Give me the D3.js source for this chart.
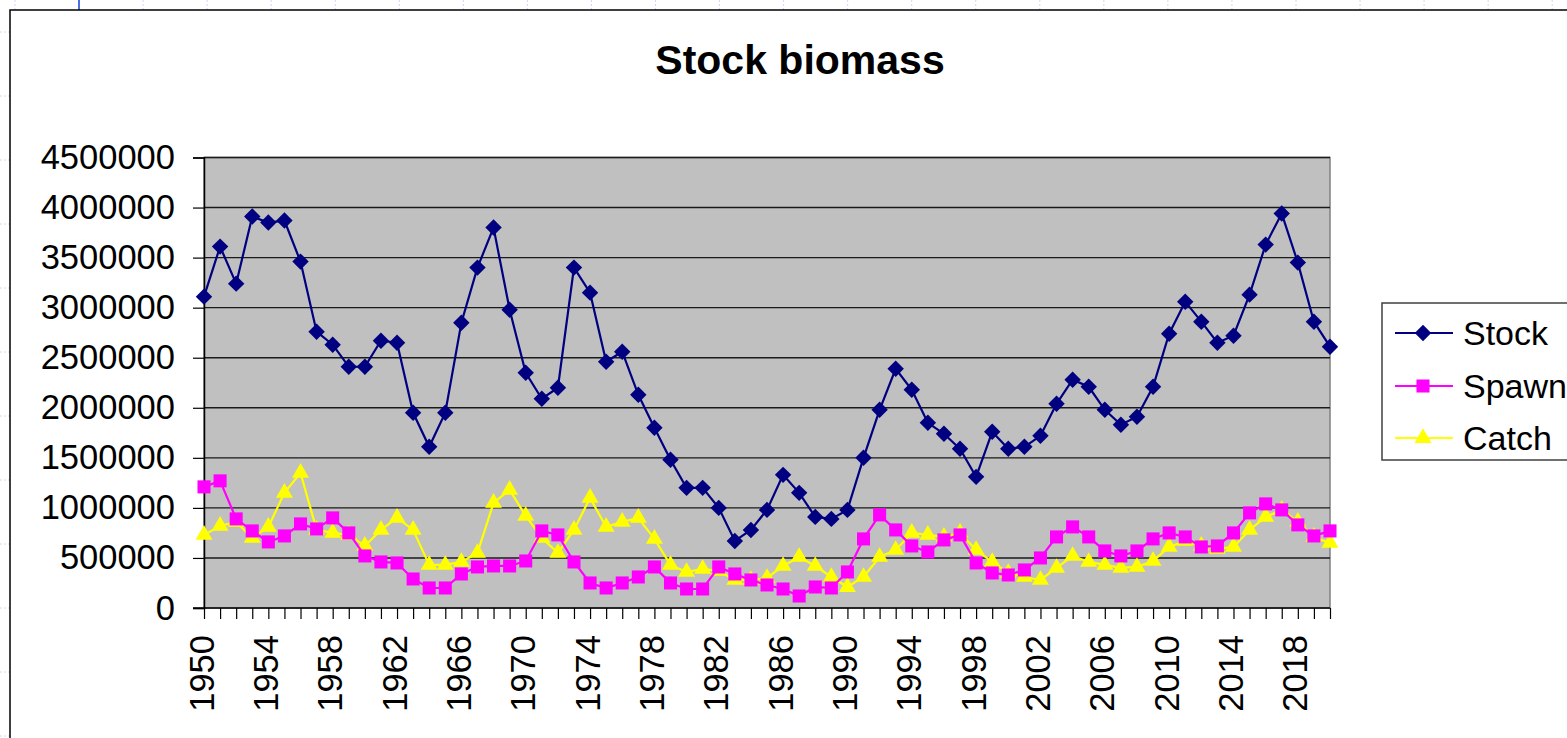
<!DOCTYPE html>
<html>
<head>
<meta charset="utf-8">
<script src="https://cdn.jsdelivr.net/npm/d3@7"></script>
<style>
  body { margin: 0; background: #fff; }
  text { font-family: "Liberation Sans", Arial, sans-serif; }
</style>
</head>
<body>
<svg id="chart"></svg>
<script>
var width = 1567;
var height = 738;

// categories
var years = d3.range(1950, 2021);

// series values
var stock = [3110000, 3610000, 3240000, 3910000, 3850000, 3870000, 3460000, 2760000, 2630000, 2410000,
             2410000, 2670000, 2650000, 1950000, 1610000, 1950000, 2850000, 3400000, 3800000, 2980000,
             2350000, 2090000, 2200000, 3400000, 3150000, 2460000, 2560000, 2130000, 1800000, 1480000,
             1200000, 1200000, 1000000, 670000, 780000, 980000, 1330000, 1150000, 910000, 890000,
             980000, 1500000, 1980000, 2390000, 2180000, 1850000, 1740000, 1590000, 1310000, 1760000,
             1590000, 1610000, 1720000, 2040000, 2280000, 2210000, 1980000, 1830000, 1910000, 2210000,
             2740000, 3060000, 2860000, 2650000, 2720000, 3130000, 3630000, 3940000, 3450000, 2860000,
             2610000];
var spawn = [1210000, 1270000, 890000, 770000, 660000, 720000, 840000, 790000, 900000, 750000,
             520000, 460000, 450000, 290000, 200000, 200000, 340000, 410000, 420000, 420000,
             470000, 770000, 730000, 460000, 250000, 200000, 250000, 310000, 410000, 250000,
             190000, 190000, 410000, 340000, 280000, 230000, 190000, 120000, 210000, 200000,
             360000, 690000, 930000, 780000, 620000, 560000, 680000, 730000, 450000, 350000,
             330000, 380000, 500000, 710000, 810000, 710000, 570000, 520000, 570000, 690000,
             750000, 710000, 610000, 620000, 750000, 950000, 1040000, 980000, 830000, 720000,
             770000];
var catchData = [730000, 820000, 860000, 700000, 810000, 1150000, 1350000, 780000, 750000, 730000,
             620000, 780000, 900000, 780000, 430000, 430000, 460000, 550000, 1050000, 1180000,
             920000, 700000, 550000, 780000, 1100000, 810000, 860000, 900000, 690000, 430000,
             360000, 390000, 370000, 280000, 280000, 300000, 420000, 510000, 420000, 310000,
             210000, 310000, 510000, 580000, 750000, 730000, 710000, 750000, 580000, 460000,
             350000, 310000, 280000, 400000, 520000, 460000, 430000, 400000, 410000, 470000,
             610000, 670000, 620000, 590000, 610000, 780000, 910000, 980000, 860000, 710000,
             650000];

var yTicks = d3.range(0, 4500001, 500000);
var seriesNames = ["Stock", "Spawn", "Catch"];
var seriesColors = ["#000080", "#FF00FF", "#FFFF00"];

var svg = d3.select('#chart')
    .attr('width', width)
    .attr('height', height);

// spreadsheet cells peeking out around the chart
var deco = svg.append('g');
d3.range(15, width, 64.05).forEach(function(px){
    deco.append('line').attr('x1', px).attr('x2', px).attr('y1', 0).attr('y2', 10)
        .attr('stroke', '#cdd8f2').attr('stroke-dasharray', '2,2');
});
d3.range(32, height, 64).forEach(function(py){
    deco.append('line').attr('x1', 0).attr('x2', 10).attr('y1', py).attr('y2', py)
        .attr('stroke', '#cdd8f2').attr('stroke-dasharray', '2,2');
});
deco.append('line').attr('x1', 79).attr('x2', 79).attr('y1', 0).attr('y2', 10)
    .attr('stroke', '#4a6fe0').attr('stroke-width', 2);

// chart frame (runs off the window)
svg.append('rect')
    .attr('x', 10).attr('y', 10)
    .attr('width', width + 20).attr('height', height + 20)
    .attr('fill', '#fff')
    .attr('stroke', '#000').attr('stroke-width', 1.5);

var plotLeft = 204, plotRight = 1330, plotTop = 157.5, plotBottom = 608;

var x = d3.scalePoint()
    .domain(years)
    .range([plotLeft, plotRight]);

var y = d3.scaleLinear()
    .domain([0, 4500000])
    .range([plotBottom, plotTop]);

// plot area
svg.append('rect')
    .attr('x', plotLeft).attr('y', plotTop)
    .attr('width', plotRight - plotLeft).attr('height', plotBottom - plotTop)
    .attr('fill', '#C0C0C0')
    .attr('stroke', '#808080').attr('stroke-width', 1.5);

// gridlines
svg.append('g')
    .selectAll('line')
    .data(yTicks.slice(1))
    .enter().append('line')
    .attr('x1', plotLeft).attr('x2', plotRight)
    .attr('y1', function(d){ return y(d); })
    .attr('y2', function(d){ return y(d); })
    .attr('stroke', '#1a1a1a').attr('stroke-width', 1.4);

// y axis
var yAxis = svg.append('g')
    .attr('transform', 'translate(' + plotLeft + ',0)')
    .call(d3.axisLeft(y).tickValues(yTicks).tickSize(11).tickPadding(18)
        .tickFormat(function(d){ return String(d); }));
yAxis.select('.domain').attr('stroke', '#000').attr('stroke-width', 1.5);
yAxis.selectAll('.tick line').attr('stroke', '#000').attr('stroke-width', 1.2);
yAxis.selectAll('text')
    .style('font-size', '34.5px')
    .attr('fill', '#000');

// x axis
var xAxis = svg.append('g')
    .attr('transform', 'translate(0,' + plotBottom + ')')
    .call(d3.axisBottom(x).tickSize(11)
        .tickFormat(function(d){ return d % 4 === 2 ? d : ''; }));
xAxis.select('.domain').attr('stroke', '#000').attr('stroke-width', 1.5)
    .attr('d', 'M' + (plotLeft - 11) + ',0H' + plotRight);
xAxis.selectAll('.tick line').attr('stroke', '#000').attr('stroke-width', 1.2);
xAxis.selectAll('text')
    .style('font-size', '34.5px')
    .style('text-anchor', 'end')
    .attr('fill', '#000')
    .attr('x', -27)
    .attr('y', -3)
    .attr('dy', '0.35em')
    .attr('transform', 'rotate(-90)');

// lines and markers
var lineGen = d3.line()
    .x(function(d, i){ return x(years[i]); })
    .y(function(d){ return y(d); });

var symbols = [
    d3.symbol().type(d3.symbolSquare).size(135),
    d3.symbol().type(d3.symbolSquare).size(170),
    d3.symbol().type(d3.symbolTriangle).size(125)
];
var rotations = [45, 0, 0];

function drawSeries(values, k){
    var g = svg.append('g');
    g.append('path')
        .attr('d', lineGen(values))
        .attr('fill', 'none')
        .attr('stroke', seriesColors[k])
        .attr('stroke-width', 2.2);
    g.selectAll('path.mark')
        .data(values)
        .enter().append('path')
        .attr('class', 'mark')
        .attr('d', symbols[k])
        .attr('fill', seriesColors[k])
        .attr('transform', function(d, i){
            return 'translate(' + x(years[i]) + ',' + y(d) + ') rotate(' + rotations[k] + ')';
        });
}

drawSeries(catchData, 2);
drawSeries(spawn, 1);
drawSeries(stock, 0);

// title
svg.append('text')
    .attr('x', 800).attr('y', 74)
    .attr('text-anchor', 'middle')
    .style('font-size', '41px')
    .style('font-weight', 'bold')
    .text('Stock biomass');

// legend
var legend = svg.append('g');
legend.append('rect')
    .attr('x', 1382).attr('y', 303)
    .attr('width', 220).attr('height', 157)
    .attr('fill', '#fff')
    .attr('stroke', '#404040').attr('stroke-width', 1.5);

var legendRows = [333, 386, 438];
seriesNames.forEach(function(name, k){
    var row = legend.append('g')
        .attr('transform', 'translate(0,' + legendRows[k] + ')');
    row.append('line')
        .attr('x1', 1395).attr('x2', 1453)
        .attr('stroke', seriesColors[k]).attr('stroke-width', 2.2);
    row.append('path')
        .attr('d', symbols[k])
        .attr('fill', seriesColors[k])
        .attr('transform', 'translate(1423,0) rotate(' + rotations[k] + ')');
    row.append('text')
        .attr('x', 1463).attr('y', 0)
        .attr('dy', '0.35em')
        .style('font-size', '34px')
        .text(name);
});
</script>
</body>
</html>
